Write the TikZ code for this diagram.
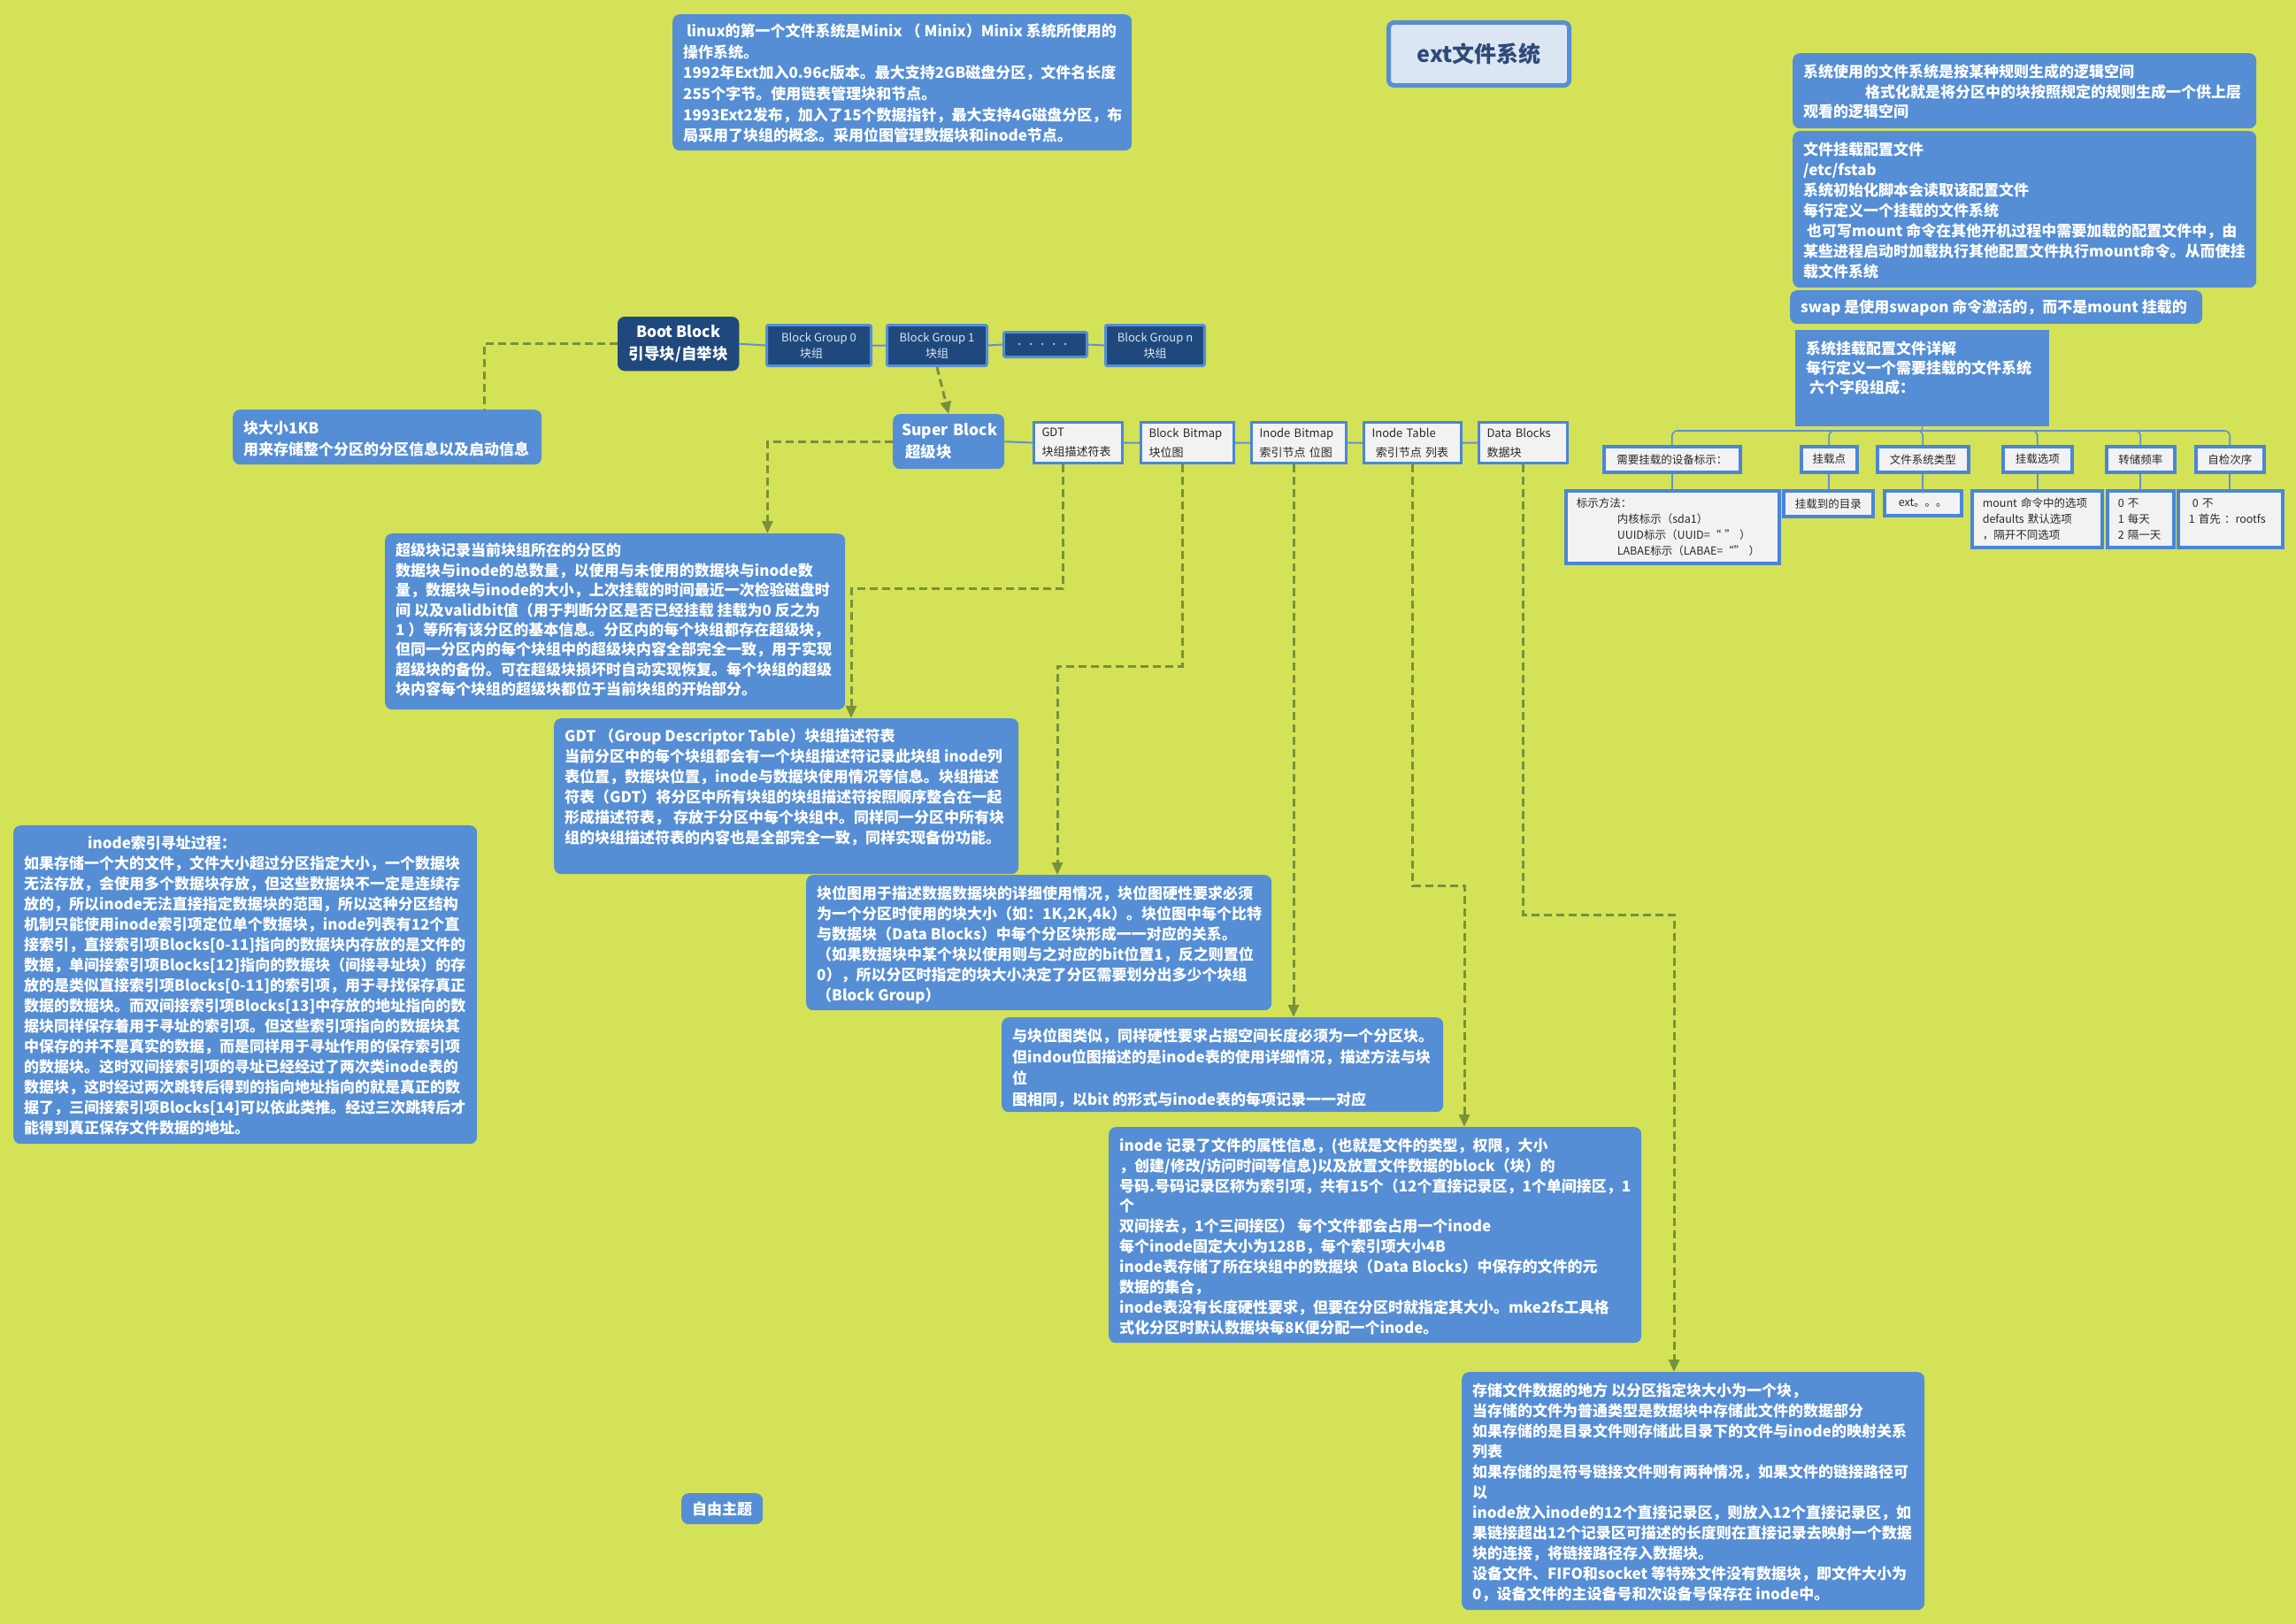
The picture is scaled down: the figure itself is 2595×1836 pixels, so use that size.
\documentclass[tikz,border=0pt]{standalone}
\usepackage{fontspec}
\setmainfont{Noto Sans CJK SC}
\usetikzlibrary{arrows.meta,calc}
\definecolor{bgc}{RGB}{212,226,88}
\definecolor{boxblue}{RGB}{85,142,213}
\definecolor{darkblue}{RGB}{31,73,125}
\definecolor{bord}{RGB}{74,134,216}
\definecolor{lightfill}{RGB}{242,242,242}
\definecolor{olive}{RGB}{118,146,60}
\definecolor{titlefill}{RGB}{220,230,242}
\definecolor{titletext}{RGB}{45,75,120}
\definecolor{lline}{RGB}{95,145,208}
\definecolor{dtext}{RGB}{40,40,40}
\hyphenpenalty=10000
\exhyphenpenalty=10000
\newcommand{\tx}[5]{\parbox[c][#2pt][t]{#1pt}{\fontsize{17}{#4pt}\selectfont\raggedright\vspace*{#3pt}\strut#5}}
\begin{document}
\begin{tikzpicture}[x=1pt,y=-1pt,
  bluebox/.style={fill=boxblue, rounded corners=8pt, inner xsep=12pt, inner ysep=0pt, anchor=north west, text=white, font=\bfseries},
  darkbox/.style={fill=darkblue, draw=boxblue, line width=3pt, rounded corners=2pt, text=titlefill, font=\fontsize{13}{18}\selectfont, anchor=north west, inner sep=0pt, align=center},
  smallbox/.style={fill=lightfill, draw=bord, line width=3pt, text=dtext, font=\fontsize{13}{22}\selectfont, anchor=north west, inner xsep=9pt, inner ysep=0pt, align=left},
  treebox/.style={fill=lightfill, draw=bord, line width=3.5pt, text=dtext, font=\fontsize{12.5}{18}\selectfont, anchor=north west, inner sep=0pt, align=center},
  leafbox/.style={fill=lightfill, draw=bord, line width=3.5pt, text=dtext, font=\fontsize{12.5}{18}\selectfont, anchor=north west, inner xsep=12pt, inner ysep=0pt, align=left},
  bline/.style={draw=lline, line width=2pt},
  tline/.style={draw=lline, line width=1.6pt},
  dline/.style={draw=olive, line width=3pt, dash pattern=on 9pt off 5pt},
  arr/.style={-{Triangle[length=14pt,width=12pt]}}
]
\useasboundingbox (0,0) rectangle (2595,1836);
\fill[bgc] (0,0) rectangle (2595,1836);

% title
\node[fill=titlefill, draw=boxblue, line width=5pt, rounded corners=6pt, text=titletext, font=\bfseries\fontsize{25}{30}\selectfont, minimum width=204pt, minimum height=71pt, anchor=north west, inner sep=0pt] (title) at (1567,23) {ext文件系统};

% top history box
\node[bluebox] (topbox) at (760,16) {\tx{495}{154}{9}{23.6}{~linux的第一个文件系统是Minix~（~Minix）Minix~系统所使用的\\操作系统。\\1992年Ext加入0.96c版本。最大支持2GB磁盘分区，文件名长度\\255个字节。使用链表管理块和节点。\\1993Ext2发布，加入了15个数据指针，最大支持4G磁盘分区，布\\局采用了块组的概念。采用位图管理数据块和inode节点。}};

% right boxes
\node[bluebox] (r1) at (2026,60) {\tx{500}{85}{12}{22.5}{系统使用的文件系统是按某种规则生成的逻辑空间\\\hspace*{70pt}格式化就是将分区中的块按照规定的规则生成一个供上层\\观看的逻辑空间}};
\node[bluebox] (r2) at (2026,148) {\tx{500}{177}{11}{23}{文件挂载配置文件\\/etc/fstab\\系统初始化脚本会读取该配置文件\\每行定义一个挂载的文件系统\\~也可写mount~命令在其他开机过程中需要加载的配置文件中，由\\某些进程启动时加载执行其他配置文件执行mount命令。从而使挂\\载文件系统}};
\node[bluebox] (swap) at (2023,328) {\tx{442}{38}{9}{23}{swap~是使用swapon~命令激活的，而不是mount~挂载的}};
\node[bluebox, rounded corners=0pt] (fsd) at (2029,373) {\tx{263}{109}{12}{22}{系统挂载配置文件详解\\每行定义一个需要挂载的文件系统\\~六个字段组成：}};

% fstab fields
\node[treebox, minimum width=154pt, minimum height=29pt] (c1) at (1811,503) {需要挂载的设备标示：};
\node[treebox, minimum width=63pt, minimum height=29pt] (c2) at (2034,503) {挂载点};
\node[treebox, minimum width=103pt, minimum height=29pt] (c3) at (2120,503) {文件系统类型};
\node[treebox, minimum width=78pt, minimum height=29pt] (c4) at (2262,503) {挂载选项};
\node[treebox, minimum width=77pt, minimum height=29pt] (c5) at (2379,503) {转储频率};
\node[treebox, minimum width=77pt, minimum height=29pt] (c6) at (2480,503) {自检次序};

\node[leafbox, text width=217pt, minimum height=82pt] (g1) at (1768,553) {标示方法：\\\hspace*{46pt}内核标示（sda1）\\\hspace*{46pt}UUID标示（UUID=“~”~）\\\hspace*{46pt}LABAE标示（LABAE=“”~）};
\node[treebox, minimum width=101pt, minimum height=29pt] (g2) at (2014,553) {挂载到的目录};
\node[treebox, minimum width=87pt, minimum height=28pt] (g3) at (2128,553) {ext。。。};
\node[leafbox, text width=123pt, minimum height=64pt] (g4) at (2227,553) {mount~命令中的选项\\defaults~默认选项\\，隔开不同选项};
\node[leafbox, text width=51pt, minimum height=64pt] (g5) at (2380,553) {0~不\\1~每天\\2~隔一天};
\node[leafbox, text width=94pt, minimum height=64pt] (g6) at (2460,553) {~0~不\\1~首先~：rootfs\\\mbox{}};

% block row
\node[fill=darkblue, draw=darkblue, rounded corners=8pt, text=white, font=\bfseries\fontsize{17.5}{25}\selectfont, align=center, anchor=north west, inner sep=0pt, minimum width=137pt, minimum height=61pt] (boot) at (698,358) {Boot~Block\\引导块/自举块};
\node[darkbox, minimum width=118pt, minimum height=46pt, align=left] (bg0) at (865,366) {Block~Group~0\\\hspace*{21pt}块组};
\node[darkbox, minimum width=113pt, minimum height=46pt] (bg1) at (1001,366) {Block~Group~1\\块组};
\node[darkbox, minimum width=94pt, minimum height=28pt] (dots) at (1133,374) {．．．．．};
\node[darkbox, minimum width=112pt, minimum height=46pt] (bgn) at (1248,366) {Block~Group~n\\块组};

% super block row
\node[fill=boxblue, rounded corners=8pt, text=white, font=\bfseries\fontsize{17.5}{25}\selectfont, align=left, anchor=north west, inner xsep=10pt, inner ysep=0pt, text width=106pt, minimum height=62pt] (sb) at (1009,468) {Super~Block\\\hspace*{4pt}超级块};
\node[smallbox, text width=82pt, minimum height=46pt] (gdt) at (1167,476) {GDT\\块组描述符表};
\node[smallbox, text width=87pt, minimum height=46pt] (bb) at (1288,476) {Block~Bitmap\\块位图};
\node[smallbox, text width=89pt, minimum height=46pt] (ib) at (1413,476) {Inode~Bitmap\\索引节点~位图};
\node[smallbox, text width=92pt, minimum height=46pt] (it) at (1540,476) {Inode~Table\\~索引节点~列表};
\node[smallbox, text width=82pt, minimum height=46pt] (db) at (1670,476) {Data~Blocks\\数据块};

% description boxes
\node[bluebox] (kb) at (263,463) {\tx{325}{62}{10}{24}{块大小1KB\\用来存储整个分区的分区信息以及启动信息}};
\node[bluebox] (sbt) at (435,603) {\tx{496}{199}{10}{22.4}{超级块记录当前块组所在的分区的\\数据块与inode的总数量，以使用与未使用的数据块与inode数\\量，数据块与inode的大小，上次挂载的时间最近一次检验磁盘时\\间~以及validbit值（用于判断分区是否已经挂载~挂载为0~反之为\\1~）等所有该分区的基本信息。分区内的每个块组都存在超级块，\\但同一分区内的每个块组中的超级块内容全部完全一致，用于实现\\超级块的备份。可在超级块损坏时自动实现恢复。每个块组的超级\\块内容每个块组的超级块都位于当前块组的开始部分。}};
\node[bluebox] (gdtt) at (626,812) {\tx{501}{176}{10}{23}{GDT~（Group~Descriptor~Table）块组描述符表\\当前分区中的每个块组都会有一个块组描述符记录此块组~inode列\\表位置，数据块位置，inode与数据块使用情况等信息。块组描述\\符表（GDT）将分区中所有块组的块组描述符按照顺序整合在一起\\形成描述符表，~存放于分区中每个块组中。同样同一分区中所有块\\组的块组描述符表的内容也是全部完全一致，同样实现备份功能。}};
\node[bluebox] (inl) at (15,933) {\tx{500}{360}{10}{23}{\hspace*{72pt}inode索引寻址过程：\\如果存储一个大的文件，文件大小超过分区指定大小，一个数据块\\无法存放，会使用多个数据块存放，但这些数据块不一定是连续存\\放的，所以inode无法直接指定数据块的范围，所以这种分区结构\\机制只能使用inode索引项定位单个数据块，inode列表有12个直\\接索引，直接索引项Blocks[0-11]指向的数据块内存放的是文件的\\数据，单间接索引项Blocks[12]指向的数据块（间接寻址块）的存\\放的是类似直接索引项Blocks[0-11]的索引项，用于寻找保存真正\\数据的数据块。而双间接索引项Blocks[13]中存放的地址指向的数\\据块同样保存着用于寻址的索引项。但这些索引项指向的数据块其\\中保存的并不是真实的数据，而是同样用于寻址作用的保存索引项\\的数据块。这时双间接索引项的寻址已经经过了两次类inode表的\\数据块，这时经过两次跳转后得到的指向地址指向的就是真正的数\\据了，三间接索引项Blocks[14]可以依此类推。经过三次跳转后才\\能得到真正保存文件数据的地址。}};
\node[bluebox] (bbt) at (911,989) {\tx{502}{153}{11}{23}{块位图用于描述数据数据块的详细使用情况，块位图硬性要求必须\\为一个分区时使用的块大小（如：1K,2K,4k）。块位图中每个比特\\与数据块（Data~Blocks）中每个分区块形成一一对应的关系。\\（如果数据块中某个块以使用则与之对应的bit位置1，反之则置位\\0），所以分区时指定的块大小决定了分区需要划分出多少个块组\\（Block~Group）}};
\node[bluebox] (ibt) at (1132,1150) {\tx{475}{107}{10}{24}{与块位图类似，同样硬性要求占据空间长度必须为一个分区块。\\但indou位图描述的是inode表的使用详细情况，描述方法与块\\位\\图相同，以bit~的形式与inode表的每项记录一一对应}};
\node[bluebox] (itt) at (1253,1274) {\tx{578}{244}{11}{22.9}{inode~记录了文件的属性信息，(也就是文件的类型，权限，大小\\，创建/修改/访问时间等信息)以及放置文件数据的block（块）的\\号码.号码记录区称为索引项，共有15个（12个直接记录区，1个单间接区，1\\个\\双间接去，1个三间接区）~每个文件都会占用一个inode\\每个inode固定大小为128B，每个索引项大小4B\\inode表存储了所在块组中的数据块（Data~Blocks）中保存的文件的元\\数据的集合，\\inode表没有长度硬性要求，但要在分区时就指定其大小。mke2fs工具格\\式化分区时默认数据块每8K便分配一个inode。}};
\node[bluebox] (dbt) at (1652,1551) {\tx{499}{269}{11}{23}{存储文件数据的地方~以分区指定块大小为一个块，\\当存储的文件为普通类型是数据块中存储此文件的数据部分\\如果存储的是目录文件则存储此目录下的文件与inode的映射关系\\列表\\如果存储的是符号链接文件则有两种情况，如果文件的链接路径可\\以\\inode放入inode的12个直接记录区，则放入12个直接记录区，如\\果链接超出12个记录区可描述的长度则在直接记录去映射一个数据\\块的连接，将链接路径存入数据块。\\设备文件、FIFO和socket~等特殊文件没有数据块，即文件大小为\\0，设备文件的主设备号和次设备号保存在~inode中。}};
\node[bluebox] (free) at (770,1688) {\tx{68}{35}{8}{23}{自由主题}};

% solid connectors
\draw[bline] (boot.east) -- (bg0.west) (bg0.east) -- (bg1.west) (bg1.east) -- (dots.west) (dots.east) -- (bgn.west);
\draw[bline] (sb.east) -- (gdt.west) (gdt.east) -- (bb.west) (bb.east) -- (ib.west) (ib.east) -- (it.west) (it.east) -- (db.west);

% fstab tree
\coordinate (fj) at (2172,487);
\draw[tline] (fsd.south) -- (fj);
\foreach \c in {c1,c2,c3,c4,c5,c6} \draw[tline, rounded corners=6pt] (fj) -| (\c.north);
\foreach \c/\g in {c1/g1,c2/g2,c3/g3,c4/g4,c5/g5,c6/g6} \draw[tline] (\c.south) -- (\c.south |- \g.north);

% dashed connectors
\draw[dline] (boot.west) -| ([xshift=110pt]kb.north);
\draw[dline,arr] (bg1.south) -- (sb.north);
\draw[dline,arr] (sb.west) -| ([xshift=-88pt]sbt.north east);
\coordinate (gk) at (962,665);
\draw[dline,arr] ([xshift=-17pt]gdt.south) |- (gk) -- (gk |- gdtt.north);
\coordinate (bk) at (1195,753);
\draw[dline,arr] ([xshift=-6pt]bb.south) |- (bk) -- (bk |- bbt.north);
\draw[dline,arr] ([xshift=-6pt]ib.south) -- ([xshift=-6pt]ib.south |- ibt.north);
\coordinate (ik) at (1655,1001);
\draw[dline,arr] (it.south) |- (ik) -- (ik |- itt.north);
\coordinate (dk) at (1892,1034);
\draw[dline,arr] (db.south) |- (dk) -- (dk |- dbt.north);
\end{tikzpicture}
\end{document}
